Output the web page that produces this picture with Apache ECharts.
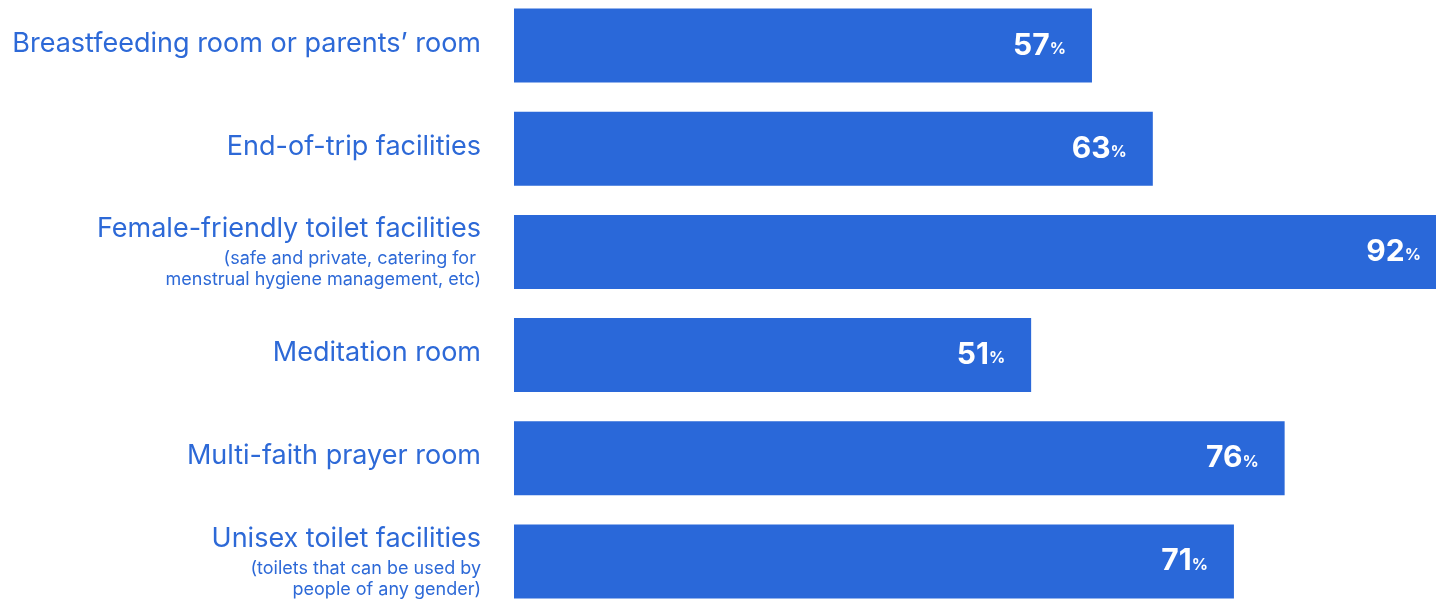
<!DOCTYPE html>
<html>
<head>
<meta charset="utf-8">
<script src="https://cdn.jsdelivr.net/npm/echarts@6/dist/echarts.min.js"></script>
<style>html,body{margin:0;padding:0;background:#fff;}#c{width:1436px;height:600px;}</style>
</head>
<body>
<div id="c"></div>
<script>
const categories = [
  'Breastfeeding room or parents’ room',
  'End-of-trip facilities',
  'Female-friendly toilet facilities',
  'Meditation room',
  'Multi-faith prayer room',
  'Unisex toilet facilities'
];
const subtitles = [
  [],
  [],
  ['(safe and private, catering for ', 'menstrual hygiene management, etc)'],
  [],
  [],
  ['(toilets that can be used by', 'people of any gender)']
];
const values = [57, 63, 92, 51, 76, 71];

const BLUE = '#2a68d9';
const TEXT = '#2d69d7';
const FONT = 'Inter, "Open Sans", sans-serif';

const chart = echarts.init(document.getElementById('c'), null, {renderer: 'canvas'});
chart.setOption({
  animation: false,
  grid: {left: 514, top: -6, width: 1014, height: 619, containLabel: false, outerBoundsMode: 'none'},
  xAxis: {type: 'value', min: 0, max: 100, show: false},
  yAxis: {
    type: 'category',
    data: categories,
    inverse: true,
    axisLine: {show: false},
    axisTick: {show: false},
    splitLine: {show: false},
    axisLabel: {
      margin: 33,
      align: 'right',
      padding: [0, 0, 4, 0],
      formatter: function (v, i) {
        const subs = subtitles[i] || [];
        let s = '{m|' + v + '}';
        subs.forEach(t => { s += '\n{s|' + t + '}'; });
        return s;
      },
      rich: {
        m: {fontFamily: FONT, fontSize: 27, color: TEXT, lineHeight: 39, align: 'right'},
        s: {fontFamily: FONT, fontSize: 18, color: TEXT, lineHeight: 21, align: 'right'}
      }
    }
  },
  series: [{
    type: 'bar',
    data: values,
    barWidth: 74,
    itemStyle: {color: BLUE},
    label: {
      show: true,
      position: 'insideRight',
      distance: 26,
      formatter: p => '{v|' + p.value + '}{p|%}',
      rich: {
        v: {fontFamily: FONT, fontSize: 30, fontWeight: 'bold', color: '#fff'},
        p: {fontFamily: FONT, fontSize: 16, fontWeight: 'bold', color: '#fff', padding: [7, 0, 0, 0]}
      }
    }
  }]
});
</script>
</body>
</html>
